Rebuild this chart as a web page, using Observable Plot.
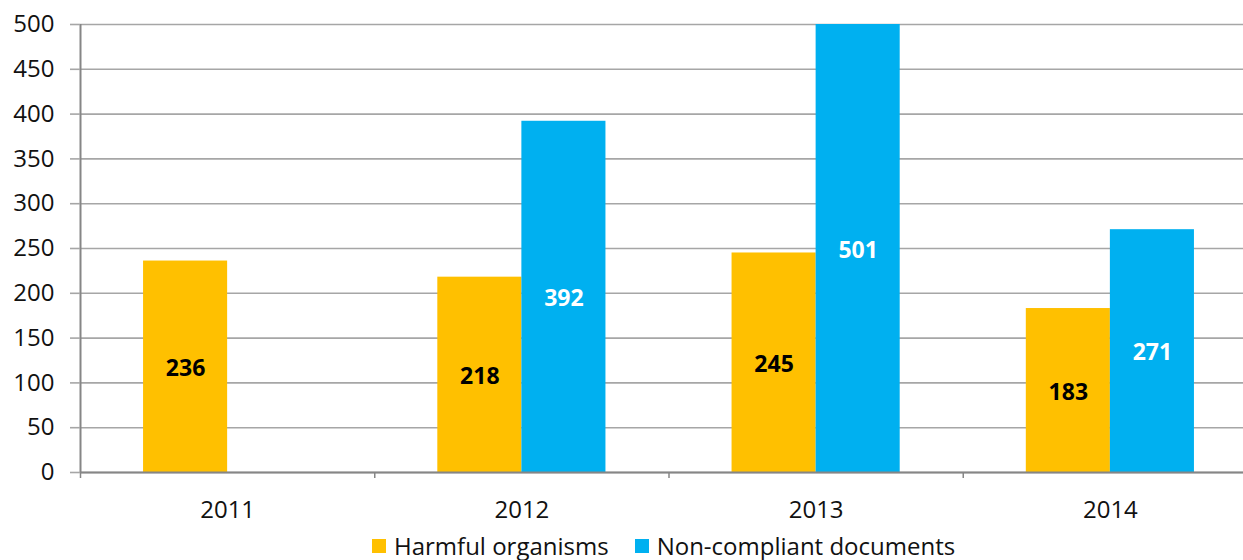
<!DOCTYPE html>
<html>
<head>
<meta charset="utf-8">
<script src="https://cdn.jsdelivr.net/npm/d3@7"></script>
<script src="https://cdn.jsdelivr.net/npm/@observablehq/plot@0.6"></script>
<style>
  html, body { margin: 0; padding: 0; background: #fff; overflow: hidden; }
  body { font-family: "Open Sans", sans-serif; width: 1243px; height: 560px; position: relative; }
  #legend { position: absolute; left: 372px; top: 531px; display: flex; align-items: center; font-size: 24px; line-height: 30px; color: #111; white-space: nowrap; }
  #legend .item { display: flex; align-items: center; margin-right: 26px; }
  #legend .sw { width: 14px; height: 14px; margin-right: 8px; }
</style>
</head>
<body>
<div id="chart"></div>
<div id="legend"></div>
<script>
// ---- data ----
const years = [2011, 2012, 2013, 2014];
const harmful = [236, 218, 245, 183];
const nonCompliant = [null, 392, 501, 271];
const seriesNames = ["Harmful organisms", "Non-compliant documents"];
const seriesColors = ["#FFC000", "#00B0F0"];
const labelColors = ["#000000", "#ffffff"];
const yTicks = [0, 50, 100, 150, 200, 250, 300, 350, 400, 450, 500];

// ---- derived table ----
const data = years.flatMap((yr, i) => [
  {year: yr, series: 0, value: harmful[i]},
  {year: yr, series: 1, value: nonCompliant[i]}
]).filter(d => d.value != null);

const yMax = yTicks[yTicks.length - 1];
const boundaries = [...years.map(y => y - 0.5), years[years.length - 1] + 0.5];
const barW = 2 / 7; // bar width as a fraction of a year's band

const chart = Plot.plot({
  width: 1243,
  height: 530,
  marginLeft: 80,
  marginRight: 0,
  marginTop: 24,
  marginBottom: 58,
  style: {fontFamily: "Open Sans, sans-serif", fontSize: "24px", color: "#111", background: "#fff"},
  x: {domain: [boundaries[0], boundaries[boundaries.length - 1]], range: [80, 1257], label: null},
  y: {domain: [0, yMax], label: null},
  marks: [
    Plot.ruleY(yTicks, {stroke: "#a6a6a6", strokeWidth: 1.6}),
    Plot.rect(data, {
      x1: d => d.series === 0 ? d.year - barW : d.year,
      x2: d => d.series === 0 ? d.year : d.year + barW,
      y1: 0,
      y2: "value",
      fill: d => seriesColors[d.series],
      clip: true
    }),
    Plot.text(data, {
      x: d => d.series === 0 ? d.year - barW / 2 : d.year + barW / 2,
      y: d => Math.min(d.value, yMax) / 2,
      text: d => String(d.value),
      fill: d => labelColors[d.series],
      fontWeight: "bold",
      fontSize: 23,
      dy: 2
    }),
    Plot.ruleY([0], {stroke: "#868686", strokeWidth: 2}),
    Plot.ruleX([boundaries[0]], {stroke: "#868686", strokeWidth: 2}),
    Plot.axisX({ticks: boundaries, tickFormat: () => "", tickSize: 6, stroke: "#868686", strokeWidth: 1.5, label: null}),
    Plot.axisX({ticks: years, tickFormat: d => String(d), tickSize: 0, tickPadding: 28, fontSize: 24, fill: "#111", label: null}),
    Plot.axisY({ticks: yTicks, tickSize: 10, tickPadding: 16, stroke: "#a6a6a6", strokeWidth: 1.6, fontSize: 24, fill: "#111", label: null})
  ]
});
document.getElementById("chart").appendChild(chart);

const legend = document.getElementById("legend");
seriesNames.forEach((name, i) => {
  const item = document.createElement("div");
  item.className = "item";
  const sw = document.createElement("span");
  sw.className = "sw";
  sw.style.background = seriesColors[i];
  const label = document.createElement("span");
  label.textContent = name;
  item.appendChild(sw);
  item.appendChild(label);
  legend.appendChild(item);
});
</script>
</body>
</html>
